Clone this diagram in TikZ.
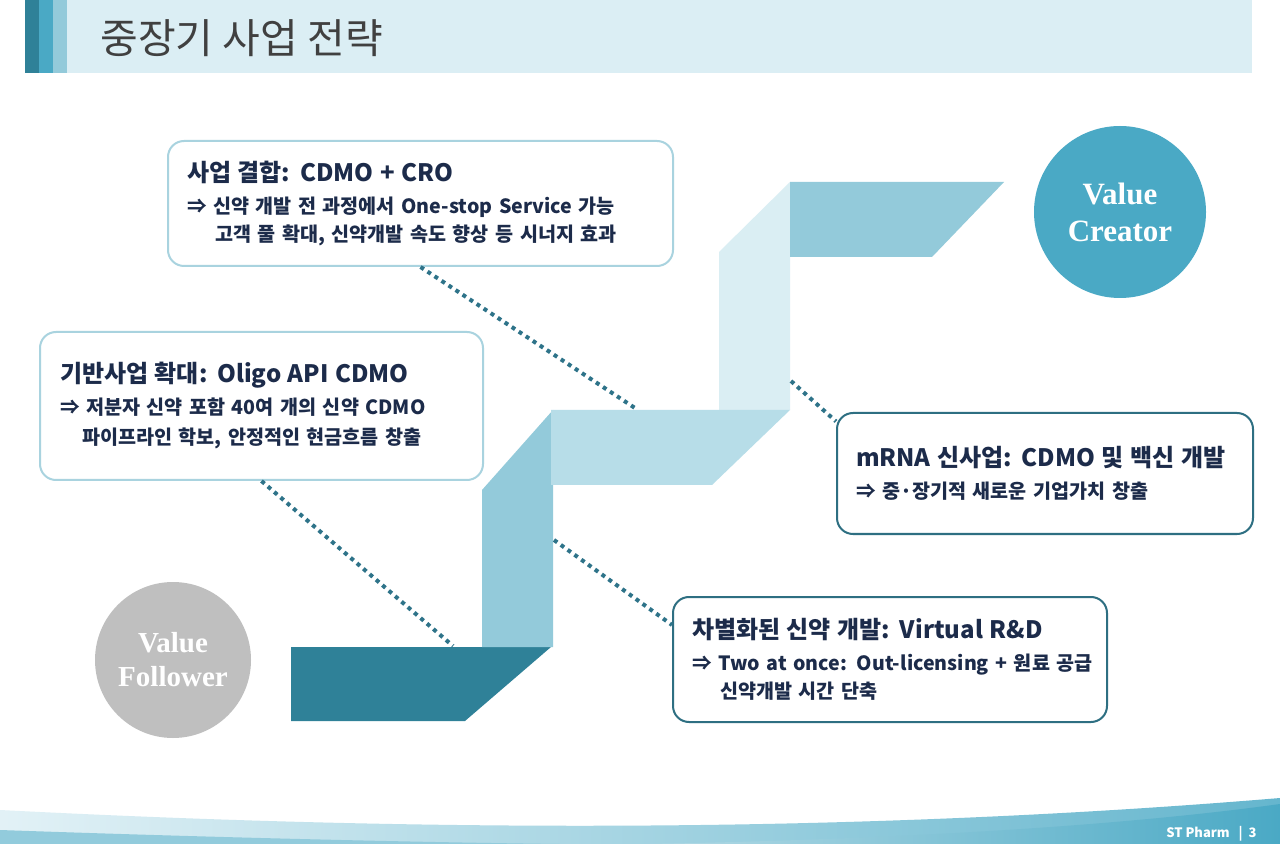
\documentclass[tikz,border=0pt]{standalone}
\usepackage{fontspec}
\setmainfont{Noto Sans CJK KR}
\newfontfamily\circfont{Liberation Serif}

\definecolor{headbg}{HTML}{DBEEF4}
\definecolor{tealdark}{HTML}{2F8198}
\definecolor{tealmid}{HTML}{4AA9C5}
\definecolor{teallight}{HTML}{93CADA}
\definecolor{bandblue}{HTML}{B7DDE8}
\definecolor{palestrip}{HTML}{DAEEF3}
\definecolor{boxlight}{HTML}{A9D3DF}
\definecolor{boxdark}{HTML}{2E6F82}
\definecolor{dotteal}{HTML}{2E7389}
\definecolor{navytext}{HTML}{1C2B4A}
\definecolor{titlegray}{HTML}{404040}
\definecolor{follgray}{HTML}{BFBFBF}

\newcommand{\boxhead}[1]{{\fontsize{12}{14}\selectfont #1}\\[2pt]}

\tikzset{
  infobox/.style={draw=#1, line width=1pt, rounded corners=8pt, fill=white,
    align=left, text=navytext, inner xsep=9.5pt,
    font=\fontsize{9.8}{14}\selectfont\bfseries},
  valuedot/.style={circle, fill=#1, text=white, align=center, inner sep=0pt},
  dotline/.style={dotteal, line width=2pt, dash pattern=on 2pt off 2.2pt}
}

\begin{document}
\begin{tikzpicture}[x=0.5pt, y=-0.5pt]

\fill[white] (0,0) rectangle (1280,844);
\useasboundingbox (0,0) rectangle (1280,844);

% Header
\fill[headbg] (25,0) rectangle (1252,73);
\fill[tealdark] (25,0) rectangle (39,73);
\fill[tealmid] (39,0) rectangle (53,73);
\fill[teallight] (53,0) rectangle (67,73);
\node[anchor=west, inner sep=0pt, text=titlegray, font=\fontsize{20.5}{24}\selectfont] (pagetitle) at (100,38) {중장기 사업 전략};

% Ribbon (steps)
\fill[tealdark] (291,647) -- (551,647) -- (465,721) -- (291,721) -- cycle;
\fill[teallight] (482,647) -- (482,490) -- (553,410) -- (553,647) -- cycle;
\fill[palestrip] (719,410) -- (719,252) -- (790,182) -- (790,410) -- cycle;
\fill[bandblue] (551,410) -- (790,410) -- (712,485) -- (551,485) -- cycle;
\fill[teallight] (790,182) -- (1004,182) -- (932,257) -- (790,257) -- cycle;

% Value circles
\node[valuedot=tealmid, minimum size=86pt, font=\circfont\bfseries\fontsize{15.5}{18.5}\selectfont] (creator) at (1120,212) {Value\\Creator};
\node[valuedot=follgray, minimum size=78pt, font=\circfont\bfseries\fontsize{14.5}{17}\selectfont] (follower) at (173,660) {Value\\Follower};

% Strategy boxes
\node[infobox=boxlight, text width=233.5pt, minimum height=62.5pt] (bizbox) at (420.5,203.5)
  {\boxhead{사업 결합: CDMO + CRO}⇒ 신약 개발 전 과정에서 One-stop Service 가능\\\hspace*{14pt}고객 풀 확대, 신약개발 속도 향상 등 시너지 효과};
\node[infobox=boxlight, text width=201.5pt, minimum height=74pt, inner xsep=10pt] (basebox) at (261.5,406)
  {\boxhead{기반사업 확대: Oligo API CDMO}⇒ 저분자 신약 포함 40여 개의 신약 CDMO\\[1pt]\hspace*{11pt}파이프라인 학보, 안정적인 현금흐름 창출};
\node[infobox=boxdark, text width=189pt, minimum height=60.5pt] (mrnabox) at (1045,473.5)
  {\boxhead{mRNA 신사업: CDMO 및 백신 개발}⇒ 중·장기적 새로운 기업가치 창출};
\node[infobox=boxdark, text width=198pt, minimum height=62.5pt] (rdbox) at (890,659.5)
  {\boxhead{차별화된 신약 개발: Virtual R\&D}\mbox{⇒ Two at once: Out-licensing + 원료 공급}\\\hspace*{14pt}신약개발 시간 단축};

% Dotted links
\coordinate (bandtop) at (638,410);
\coordinate (darktop) at (453,646);
\coordinate (stripone) at (554,540);
\coordinate (striptwo) at (791,381);
\draw[dotline] (bizbox.south) -- (bandtop);
\draw[dotline] (basebox.south) -- (darktop);
\draw[dotline] (stripone) -- (rdbox.171);
\draw[dotline] (striptwo) -- (mrnabox.166);

% Footer wave
\shade[left color=headbg!80, right color=tealmid!85] (0,810) .. controls (350,828) and (800,838) .. (1280,798) -- (1280,844) -- (0,844) -- cycle;
\fill[tealmid!60] (0,830) .. controls (200,837) and (400,842) .. (560,844) -- (0,844) -- cycle;
\shade[left color=teallight!70, right color=tealmid] (650,844) .. controls (950,838) and (1150,822) .. (1280,804) -- (1280,844) -- cycle;
\node[anchor=east, inner sep=0pt, text=white, font=\fontsize{6.5}{8}\selectfont\bfseries] (pagefoot) at (1257,834) {ST Pharm \ \ |\ \ 3};

\end{tikzpicture}
\end{document}
